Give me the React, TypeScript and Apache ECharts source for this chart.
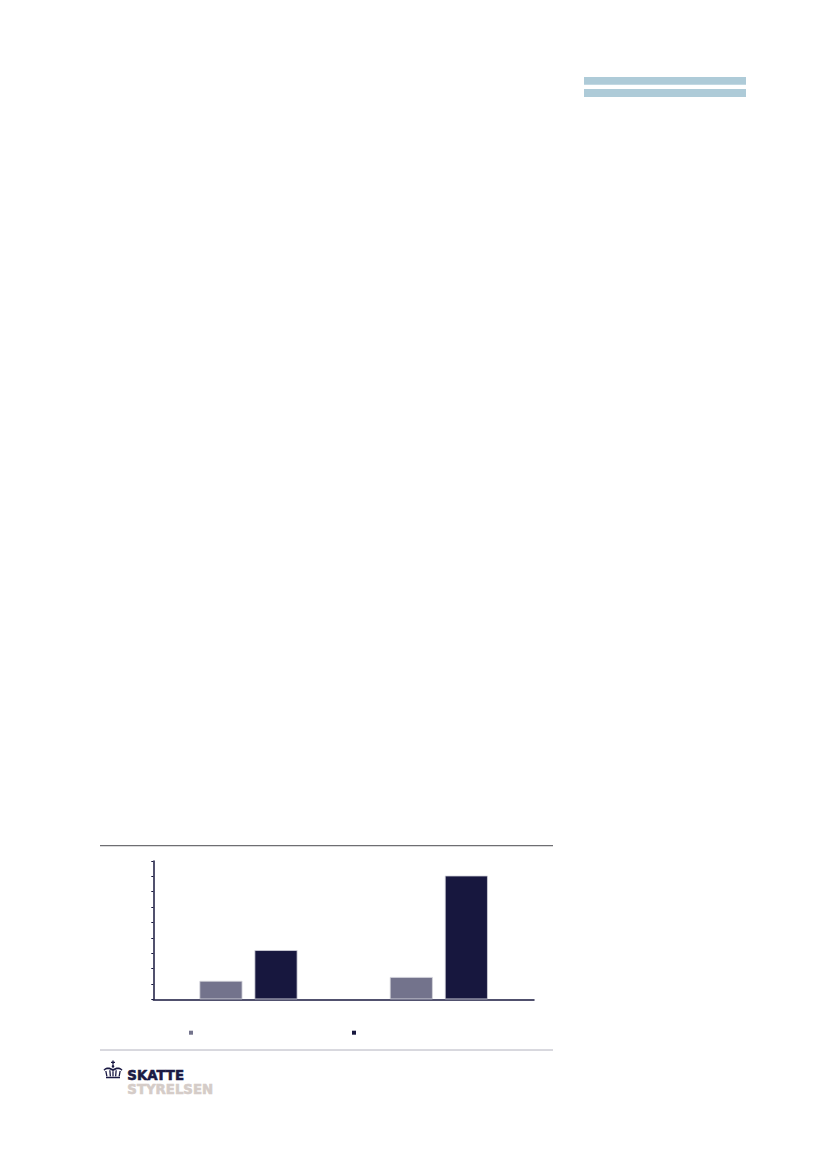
import React, { useEffect, useRef } from "react";
import * as echarts from "echarts";

const categories = ["Gruppe 1", "Gruppe 2"];
const seriesNames = ["Serie A", "Serie B"];
const seriesA = [1.2, 1.45];
const seriesB = [3.2, 8.05];
const colors = ["#73738c", "#17173e"];

const crownPath =
  "M9.3 0h1.4v4.2h-1.4z M8 1.3h4v1.1h-4z M10 4.6a1.3 1.3 0 1 1 0 2.6a1.3 1.3 0 1 1 0-2.6z " +
  "M0.5 9.2C3 6.3 7 6.6 10 8.6C13 6.6 17 6.3 19.5 9.2L18.6 10.2C16.5 8.2 13.2 8.3 10.6 10.3L10 10.8L9.4 10.3C6.8 8.3 3.5 8.2 1.4 10.2z " +
  "M2.2 10.6h1.3l1 5.2h-1.3z M6.2 9.8h1.3l0.5 6h-1.3z M9.35 10.8h1.3v5h-1.3z M12.5 9.8h1.3l-0.5 6h-1.3z M16.5 10.6h1.3l-1 5.2h-1.3z " +
  "M3 16.2h14v1.6h-14z";

let registered = false;
function ensureShape() {
  if (registered) return;
  echarts.graphic.registerShape("logo", echarts.graphic.extendPath(crownPath, {}) as any);
  registered = true;
}

export default function App() {
  const ref = useRef<HTMLDivElement>(null);
  useEffect(() => {
    if (!ref.current) return;
    ensureShape();
    const chart = echarts.init(ref.current, null, { renderer: "svg" });
    chart.setOption({
      animation: false,
      backgroundColor: "#ffffff",
      grid: { left: 153.3, right: 293, top: 861, bottom: 169.7, containLabel: false },
      legend: {
        left: 189,
        top: 1030.7,
        padding: 0,
        itemWidth: 4,
        itemHeight: 4,
        itemGap: 159,
        icon: "rect",
        itemStyle: { borderWidth: 0 },
        formatter: () => "",
        data: seriesNames,
      },
      xAxis: {
        type: "category",
        data: categories,
        axisLine: { lineStyle: { color: "#17173e", width: 1.5 } },
        axisTick: { show: false },
        axisLabel: { show: false },
      },
      yAxis: {
        type: "value",
        min: 0,
        max: 9,
        interval: 1,
        axisLine: { show: true, lineStyle: { color: "#17173e", width: 1.5 } },
        axisTick: { show: true, length: 2, lineStyle: { color: "#17173e", width: 1 } },
        axisLabel: { show: false },
        splitLine: { show: false },
      },
      series: [
        {
          name: seriesNames[0],
          type: "bar",
          data: seriesA,
          barWidth: 43,
          barGap: "28%",
          itemStyle: { color: colors[0], borderColor: "#d4d4dc", borderWidth: 0.8 },
        },
        {
          name: seriesNames[1],
          type: "bar",
          data: seriesB,
          barWidth: 43,
          itemStyle: { color: colors[1], borderColor: "#d4d4dc", borderWidth: 0.8 },
        },
      ],
      graphic: [
        { type: "rect", shape: { x: 584, y: 77, width: 162, height: 7.7 }, style: { fill: "#aecbd8" } },
        { type: "rect", shape: { x: 584, y: 89, width: 162, height: 8 }, style: { fill: "#aecbd8" } },
        { type: "line", shape: { x1: 100, y1: 845.7, x2: 553, y2: 845.7 }, style: { stroke: "#6e6e72", lineWidth: 1.3 } },
        { type: "line", shape: { x1: 100, y1: 1050, x2: 553, y2: 1050 }, style: { stroke: "#b2b2be", lineWidth: 1 } },
        { type: "logo", x: 103, y: 1060.5, scaleX: 1, scaleY: 1, style: { fill: "#1b1a44" } },
        {
          type: "text",
          x: 127.3,
          y: 1075.8,
          style: {
            text: "SKATTE",
            fill: "#1b1a44",
            stroke: "#1b1a44",
            lineWidth: 0.6,
            fontFamily: "DejaVu Sans",
            fontWeight: "bold",
            fontSize: 13.3,
            verticalAlign: "middle",
            align: "left",
          },
        },
        {
          type: "text",
          x: 127.3,
          y: 1089.7,
          style: {
            text: "STYRELSEN",
            fill: "#d5ccc8",
            stroke: "#d5ccc8",
            lineWidth: 0.6,
            fontFamily: "DejaVu Sans",
            fontWeight: "bold",
            fontSize: 13.3,
            verticalAlign: "middle",
            align: "left",
          },
        },
      ],
    });
    return () => chart.dispose();
  }, []);
  return (
    <div
      ref={ref}
      style={{ position: "absolute", left: 0, top: 0, width: 827, height: 1169, background: "#fff" }}
    />
  );
}
